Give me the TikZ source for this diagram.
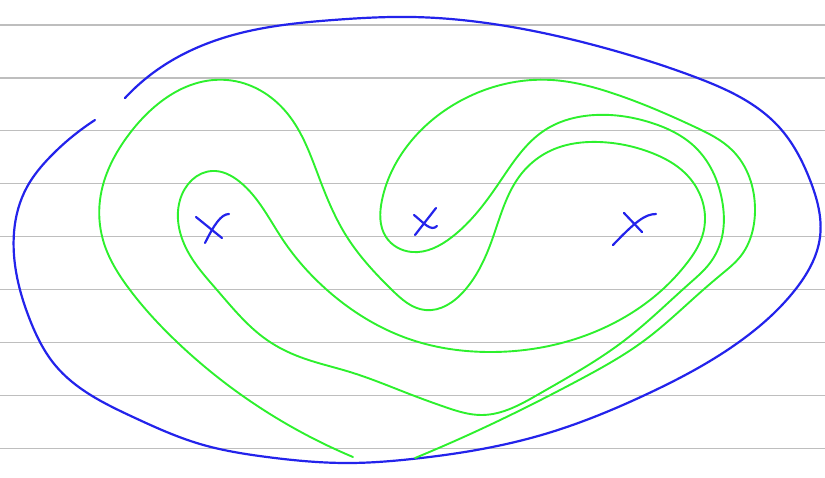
\documentclass[tikz,border=0pt]{standalone}
\usepackage{xcolor}
\usepackage{tikz}
\usetikzlibrary{hobby}
\definecolor{penblue}{RGB}{35,35,235}
\definecolor{pengreen}{RGB}{45,240,45}
\definecolor{ruling}{RGB}{190,190,190}

\begin{document}
\begin{tikzpicture}[x=1pt, y=-1pt,
  bluepen/.style={line width=2.2pt, penblue, line cap=round},
  greenpen/.style={line width=1.9pt, pengreen, line cap=round}]
  \useasboundingbox (0,0) rectangle (825,477);
  % ruled paper
  \foreach \k in {0,...,8} {
    \draw[ruling, line width=1.3pt] (0,25+52.9*\k) -- (825,25+52.9*\k);
  }
  % outer boundary, with the small gap at the top left
  \draw[bluepen, use Hobby shortcut] (125,98) .. (157,70) .. (233,35) .. (333,20) .. (412,17)
    .. (512,27) .. (612,50) .. (695,77) .. (779,127) .. (810,180) .. (820,237)
    .. (795,290) .. (739,342) .. (645,395) .. (545,434) .. (412,459)
    .. (350,463) .. (267,457) .. (200,444) .. (133,417)
    .. (55,365) .. (30,320) .. (17,277) .. (27,187) .. (50,157) .. (95,120);
  % the long curve winding round the three marks
  \draw[greenpen, use Hobby shortcut] (415,458) .. (479,430) .. (579,380) .. (645,340)
    .. (703,290) .. (723,273) .. (740,257) .. (755,210) .. (732,150) .. (695,127)
    .. (612,93) .. (552,80)
    .. (462,100) .. (412,140) .. (382,200) .. (386,237) .. (412,252)
    .. (452,237) .. (499,183) .. (545,130) .. (595,115) .. (652,123)
    .. (695,147) .. (722,200) .. (722,237) .. (710,263) .. (690,283) .. (625,340)
    .. (539,394) .. (482,415) .. (445,407) .. (412,395) .. (350,372)
    .. (300,357) .. (267,340) .. (217,290) .. (187,250) .. (180,200)
    .. (212,171) .. (240,182) .. (283,240) .. (327,290) .. (412,340)
    .. (489,352) .. (612,324) .. (662,290) .. (687,263) .. (702,237) .. (705,217)
    .. (685,173) .. (652,153) .. (599,142) .. (552,150) .. (522,173)
    .. (492,240) .. (465,290) .. (425,310) .. (392,290) .. (347,237)
    .. (320,180) .. (287,113) .. (227,80) .. (130,133) .. (100,200)
    .. (103,240) .. (130,290) .. (177,342) .. (240,394) .. (353,457);
  % the three marks
  \draw[bluepen] (196,217) -- (222,238);
  \draw[bluepen] (229,214) .. controls (221,214) and (214,225) .. (205,243);
  \draw[bluepen] (414,215) .. controls (424,223) and (431,232) .. (437,226);
  \draw[bluepen] (436,208) -- (415,235);
  \draw[bluepen] (624,213) -- (642,232);
  \draw[bluepen] (656,214) .. controls (645,214) and (635,222) .. (613,245);
\end{tikzpicture}
\end{document}
